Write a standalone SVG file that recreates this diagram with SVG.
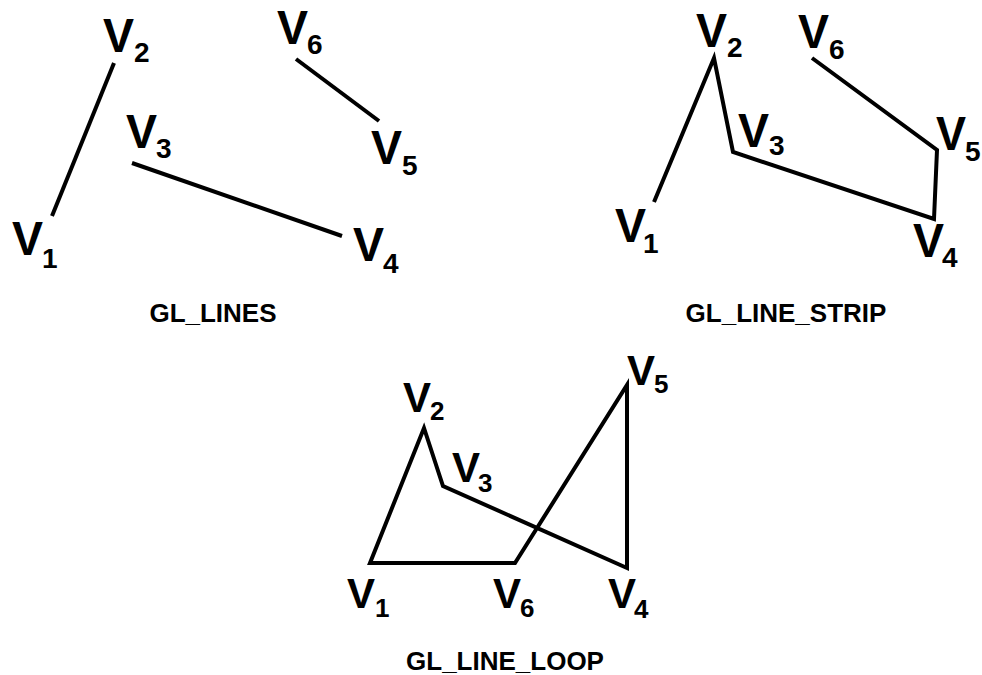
<svg xmlns="http://www.w3.org/2000/svg" width="982" height="675" viewBox="0 0 982 675">
<style>
.v{font-family:"Liberation Sans",Arial,sans-serif;font-weight:bold;font-size:48px;fill:#000}
.s{font-family:"Liberation Sans",Arial,sans-serif;font-weight:bold;font-size:28px;fill:#000}
.v2{font-family:"Liberation Sans",Arial,sans-serif;font-weight:bold;font-size:42px;fill:#000}
.s2{font-family:"Liberation Sans",Arial,sans-serif;font-weight:bold;font-size:26px;fill:#000}
.t{font-family:"Liberation Sans",Arial,sans-serif;font-weight:bold;font-size:26px;fill:#000;text-anchor:middle}
.ln{fill:none;stroke:#000;stroke-width:4;stroke-linejoin:miter}
</style>
<rect width="982" height="675" fill="#fff"/>
<g id="connectors">
<line class="ln" x1="52" y1="216" x2="114" y2="63"/>
<line class="ln" x1="132" y1="163" x2="342" y2="236"/>
<line class="ln" x1="296" y1="59" x2="379" y2="121"/>
<polyline class="ln" points="654,202 714,58 733,152 934,219 937,150 812,58"/>
<polygon class="ln" points="370,563 424,428 443,486 627,568 627,385 515,563"/>
</g>
<g id="lines-v1"><text class="v" x="12" y="255" textLength="31" lengthAdjust="spacingAndGlyphs">V</text><text class="s" x="42" y="268">1</text></g>
<g id="lines-v2"><text class="v" x="103" y="52" textLength="31" lengthAdjust="spacingAndGlyphs">V</text><text class="s" x="134" y="62">2</text></g>
<g id="lines-v3"><text class="v" x="126" y="148" textLength="31" lengthAdjust="spacingAndGlyphs">V</text><text class="s" x="156" y="158">3</text></g>
<g id="lines-v4"><text class="v" x="353" y="261" textLength="31" lengthAdjust="spacingAndGlyphs">V</text><text class="s" x="383" y="273">4</text></g>
<g id="lines-v5"><text class="v" x="371" y="164" textLength="31" lengthAdjust="spacingAndGlyphs">V</text><text class="s" x="402" y="175">5</text></g>
<g id="lines-v6"><text class="v" x="277" y="44" textLength="31" lengthAdjust="spacingAndGlyphs">V</text><text class="s" x="307" y="54">6</text></g>
<g id="lines-title"><text class="t" x="213" y="322">GL_LINES</text></g>

<g id="strip-v1"><text class="v" x="615" y="242" textLength="31" lengthAdjust="spacingAndGlyphs">V</text><text class="s" x="643" y="253">1</text></g>
<g id="strip-v2"><text class="v" x="696" y="47" textLength="31" lengthAdjust="spacingAndGlyphs">V</text><text class="s" x="727" y="57">2</text></g>
<g id="strip-v3"><text class="v" x="738" y="147" textLength="31" lengthAdjust="spacingAndGlyphs">V</text><text class="s" x="769" y="155">3</text></g>
<g id="strip-v4"><text class="v" x="913" y="257" textLength="31" lengthAdjust="spacingAndGlyphs">V</text><text class="s" x="942" y="267">4</text></g>
<g id="strip-v5"><text class="v" x="936" y="150" textLength="30" lengthAdjust="spacingAndGlyphs">V</text><text class="s" x="965" y="161">5</text></g>
<g id="strip-v6"><text class="v" x="798" y="48" textLength="31" lengthAdjust="spacingAndGlyphs">V</text><text class="s" x="829" y="59">6</text></g>
<g id="strip-title"><text class="t" x="786" y="322">GL_LINE_STRIP</text></g>

<g id="loop-v1"><text class="v2" x="347" y="608">V</text><text class="s2" x="375" y="617">1</text></g>
<g id="loop-v2"><text class="v2" x="403" y="412">V</text><text class="s2" x="430" y="420">2</text></g>
<g id="loop-v3"><text class="v2" x="452" y="482">V</text><text class="s2" x="478" y="492">3</text></g>
<g id="loop-v4"><text class="v2" x="608" y="608">V</text><text class="s2" x="634" y="618">4</text></g>
<g id="loop-v5"><text class="v2" x="627" y="385">V</text><text class="s2" x="654" y="393">5</text></g>
<g id="loop-v6"><text class="v2" x="493" y="608">V</text><text class="s2" x="520" y="617">6</text></g>
<g id="loop-title"><text class="t" x="505" y="670">GL_LINE_LOOP</text></g>
</svg>
